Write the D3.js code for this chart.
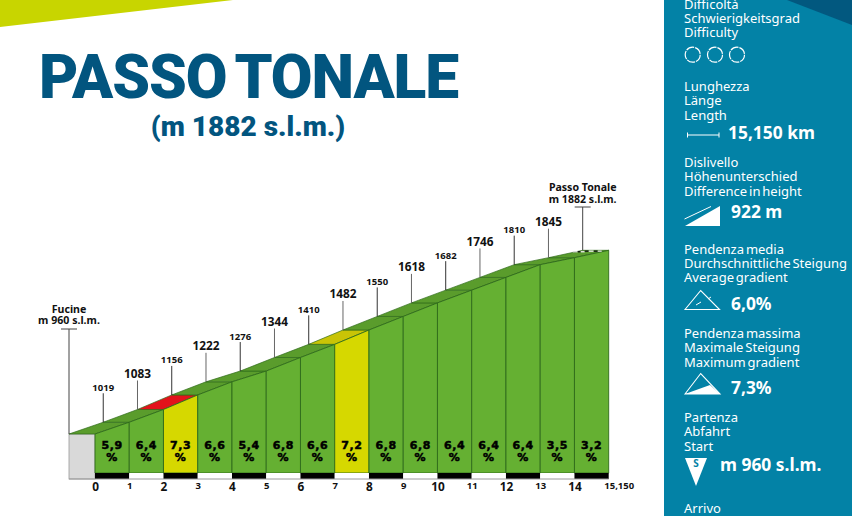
<!DOCTYPE html>
<html><head><meta charset="utf-8">
<script src="https://cdnjs.cloudflare.com/ajax/libs/d3/7.8.5/d3.min.js"></script>
<style>html,body{margin:0;padding:0;background:#fff;overflow:hidden}svg{display:block}</style>
</head><body><svg id="c" width="852" height="516"></svg>
<script>
const title = "PASSO TONALE";
const subtitle = "(m 1882 s.l.m.)";
const kmIndex = d3.range(0, 16);
const kmLabels = ["0","1","2","3","4","5","6","7","8","9","10","11","12","13","14","15,150"];
const elevations = [960,1019,1083,1156,1222,1276,1344,1410,1482,1550,1618,1682,1746,1810,1845,1882];
const gradients = [5.9,6.4,7.3,6.6,5.4,6.8,6.6,7.2,6.8,6.8,6.4,6.4,6.4,3.5,3.2];
const startLabel = ["Fucine","m 960 s.l.m."];
const endLabel = ["Passo Tonale","m 1882 s.l.m."];
const panelBlocks = [
  {lines:["Difficoltà","Schwierigkeitsgrad","Difficulty"],y:8.5},
  {lines:["Lunghezza","Länge","Length"],y:91,value:"15,150 km",vx:728,vy:139},
  {lines:["Dislivello","Höhenunterschied","Difference in height"],y:167,value:"922 m",vx:731,vy:218},
  {lines:["Pendenza media","Durchschnittliche Steigung","Average gradient"],y:253.5,value:"6,0%",vx:731,vy:310},
  {lines:["Pendenza massima","Maximale Steigung","Maximum gradient"],y:338,value:"7,3%",vx:731,vy:394},
  {lines:["Partenza","Abfahrt","Start"],y:422,value:"m 960 s.l.m.",vx:720,vy:471},
  {lines:["Arrivo"],y:513}
];

const svg = d3.select("#c");
const UI = "'Noto Sans',sans-serif";
const HEAVY = "Roboto,sans-serif";
const WIDE = "'DejaVu Sans',sans-serif";
const x = d3.scaleLinear().domain([0,15]).range([95,608.7]);
const y = d3.scaleLinear().domain([960,1882]).range([434,250.3]);
const depth = 26, faceBottom = 473, axisY = 479;
const maxG = d3.max(gradients);
const frontColor = d3.scaleThreshold().domain([7]).range(["#65b032","#d6d800"]);
const topColor = g => g===maxG ? "#e3131b" : g>=7 ? "#c9c406" : "#5a9c2c";

// decoration
svg.append("path").attr("d","M0,0H233L0,27Z").attr("fill","#c8d500");
svg.append("rect").attr("x",664).attr("y",0).attr("width",188).attr("height",516).attr("fill","#0382a6");
svg.append("path").attr("d","M787,0H852V25Z").attr("fill","#02587f");

// titles
svg.append("text").attr("x",248.5).attr("y",98).attr("text-anchor","middle")
  .attr("font-family",HEAVY).attr("font-weight",900).attr("font-size",60.5).attr("letter-spacing",-1.1).attr("word-spacing",-4).attr("fill","#02557f").text(title);
svg.append("text").attr("x",248).attr("y",136).attr("text-anchor","middle")
  .attr("font-family",HEAVY).attr("font-weight",900).attr("font-size",28).attr("fill","#02557f").text(subtitle);

// start grey face
const g = svg.append("g");
g.append("rect").attr("x",x(0)-depth).attr("y",y(elevations[0]))
  .attr("width",depth).attr("height",axisY-y(elevations[0]))
  .attr("fill","#d9d9d9").attr("stroke","#9a9a9a").attr("stroke-width",.8);

const segs = gradients.map((v,i)=>({v,i,e0:elevations[i],e1:elevations[i+1]}));
// top plane
g.selectAll(".top").data(segs).join("path").attr("class","top")
  .attr("d",d=>`M${x(d.i)-depth},${y(d.e0)}L${x(d.i+1)-depth},${y(d.e1)}L${x(d.i+1)},${y(d.e1)}L${x(d.i)},${y(d.e0)}Z`)
  .attr("fill",d=>topColor(d.v)).attr("stroke","#2f6b1b").attr("stroke-width",.7);
// front faces
g.selectAll(".face").data(segs).join("path").attr("class","face")
  .attr("d",d=>`M${x(d.i)},${faceBottom}L${x(d.i)},${y(d.e0)}L${x(d.i+1)},${y(d.e1)}L${x(d.i+1)},${faceBottom}Z`)
  .attr("fill",d=>frontColor(d.v)).attr("stroke","#2f6b1b").attr("stroke-width",.9);
// km strip
g.selectAll(".strip").data(segs).join("rect").attr("class","strip")
  .attr("x",d=>x(d.i)).attr("y",faceBottom).attr("width",d=>x(d.i+1)-x(d.i)).attr("height",axisY-faceBottom)
  .attr("fill",d=>d.i%2?"#fff":"#000");
g.append("line").attr("x1",x(0)-depth).attr("x2",x(15)).attr("y1",axisY).attr("y2",axisY)
  .attr("stroke","#9a9a9a").attr("stroke-width",1);

// finish stripes on the last top plane
const finishE = elevations[15], last = x(15)-depth;
[[-10,5,"#ddd"],[-5,3,"#111"],[-2,4,"#eee"],[2,4,"#111"],[6,5,"#eee"],[11,4,"#111"],[15,4,"#ddd"]].forEach(([dx,w,c])=>{
  g.append("rect").attr("x",last+dx).attr("y",y(finishE)+(dx<0?.8:.2)).attr("width",w).attr("height",1.3).attr("fill",c);
});

// gradient labels
const gl = g.selectAll(".gl").data(segs).join("g").attr("class","gl")
  .attr("transform",d=>`translate(${(x(d.i)+x(d.i+1))/2},0)`)
  .attr("font-family",WIDE).attr("font-weight",700).attr("font-size",11)
  .attr("letter-spacing",.6)
  .attr("text-anchor","middle").attr("fill","#000").attr("stroke","#000").attr("stroke-width",.5);
gl.append("text").attr("y",449).text(d=>String(d.v).replace(".",","));
gl.append("text").attr("y",461).text("%");

// stems and elevation labels
const inner = d3.range(1,15);
g.selectAll(".stem").data(inner).join("line").attr("class","stem")
  .attr("x1",i=>x(i)-depth).attr("x2",i=>x(i)-depth)
  .attr("y1",i=>y(elevations[i])).attr("y2",i=>y(elevations[i])-29)
  .attr("stroke",i=>i%2?"#333":"#666").attr("stroke-width",1);
g.selectAll(".elev").data(inner).join("text").attr("class","elev")
  .attr("x",i=>x(i)-depth).attr("y",i=>y(elevations[i])-31.5)
  .attr("text-anchor","middle").attr("font-family",UI).attr("font-weight",700)
  .attr("font-size",i=>i%2?9.5:11.8).attr("fill","#111").text(i=>elevations[i]);

// start and end stems
[[0,329,startLabel,313,324],[15,207,endLabel,191,203]].forEach(([i,top,lab,b1,b2])=>{
  const sx = x(i)-depth;
  g.append("line").attr("x1",sx).attr("x2",sx).attr("y1",y(elevations[i])).attr("y2",top).attr("stroke","#444").attr("stroke-width",1);
  g.append("line").attr("x1",sx-8).attr("x2",sx+8).attr("y1",top).attr("y2",top).attr("stroke","#444").attr("stroke-width",1);
  [b1,b2].forEach((b,k)=>g.append("text").attr("x",sx).attr("y",b).attr("text-anchor","middle")
    .attr("font-family",UI).attr("font-weight",700).attr("font-size",10.6).attr("fill","#111").text(lab[k]));
});

// km axis
const axis = d3.axisBottom(x).tickValues(kmIndex).tickSize(0).tickPadding(0).tickFormat(i=>kmLabels[i]);
const ax = svg.append("g").attr("transform",`translate(0,${axisY})`).call(axis);
ax.select(".domain").remove();
ax.selectAll("text").attr("font-family",UI).attr("font-weight",700).attr("fill","#111")
  .attr("font-size",i=>i%2?9.5:11.8).attr("y",i=>i%2?3:3.5)
  .attr("dx",i=>i===15?10:0);

// side panel
const panel = svg.append("g").attr("fill","#fff").attr("font-family",UI);
panelBlocks.forEach(b=>{
  b.lines.forEach((t,k)=>panel.append("text").attr("x",684).attr("y",b.y+k*14.3).attr("font-size",13).attr("font-weight",400).attr("word-spacing",-1.5).text(t));
  if(b.value) panel.append("text").attr("x",b.vx).attr("y",b.vy).attr("font-size",17.4).attr("font-weight",700).text(b.value);
});
// icons
[692.7,715,737].forEach(cx=>panel.append("circle").attr("cx",cx).attr("cy",54.7).attr("r",7.5).attr("fill","none").attr("stroke","#fff").attr("stroke-width",1.2).attr("stroke-dasharray","8.4 1"));
panel.append("path").attr("d","M687.5,135H719M687.5,132.5V137.5M719,132.5V137.5").attr("stroke","#fff").attr("fill","none").attr("stroke-width",1);
panel.append("path").attr("d","M685,226L720,206V226Z");
panel.append("path").attr("d","M684.5,219L711,206.5").attr("stroke","#fff").attr("stroke-width",1);
panel.append("path").attr("d","M685,309.5L700.7,290.5L719.5,309.5Z").attr("fill","none").attr("stroke","#fff").attr("stroke-width",1.1);
panel.append("path").attr("d","M696,305L701,302M708,299L711,297").attr("stroke","#fff").attr("stroke-width",1);
panel.append("path").attr("d","M685,394L700.7,373.5L720,394Z").attr("fill","none").attr("stroke","#fff").attr("stroke-width",1.1);
panel.append("path").attr("d","M685,394L710,385L720,394Z");
panel.append("path").attr("d","M685,458H707L696,486Z");
panel.append("text").attr("x",696).attr("y",467).attr("text-anchor","middle").attr("font-size",10).attr("font-weight",700).attr("fill","#0382a6").text("S");
</script></body></html>
